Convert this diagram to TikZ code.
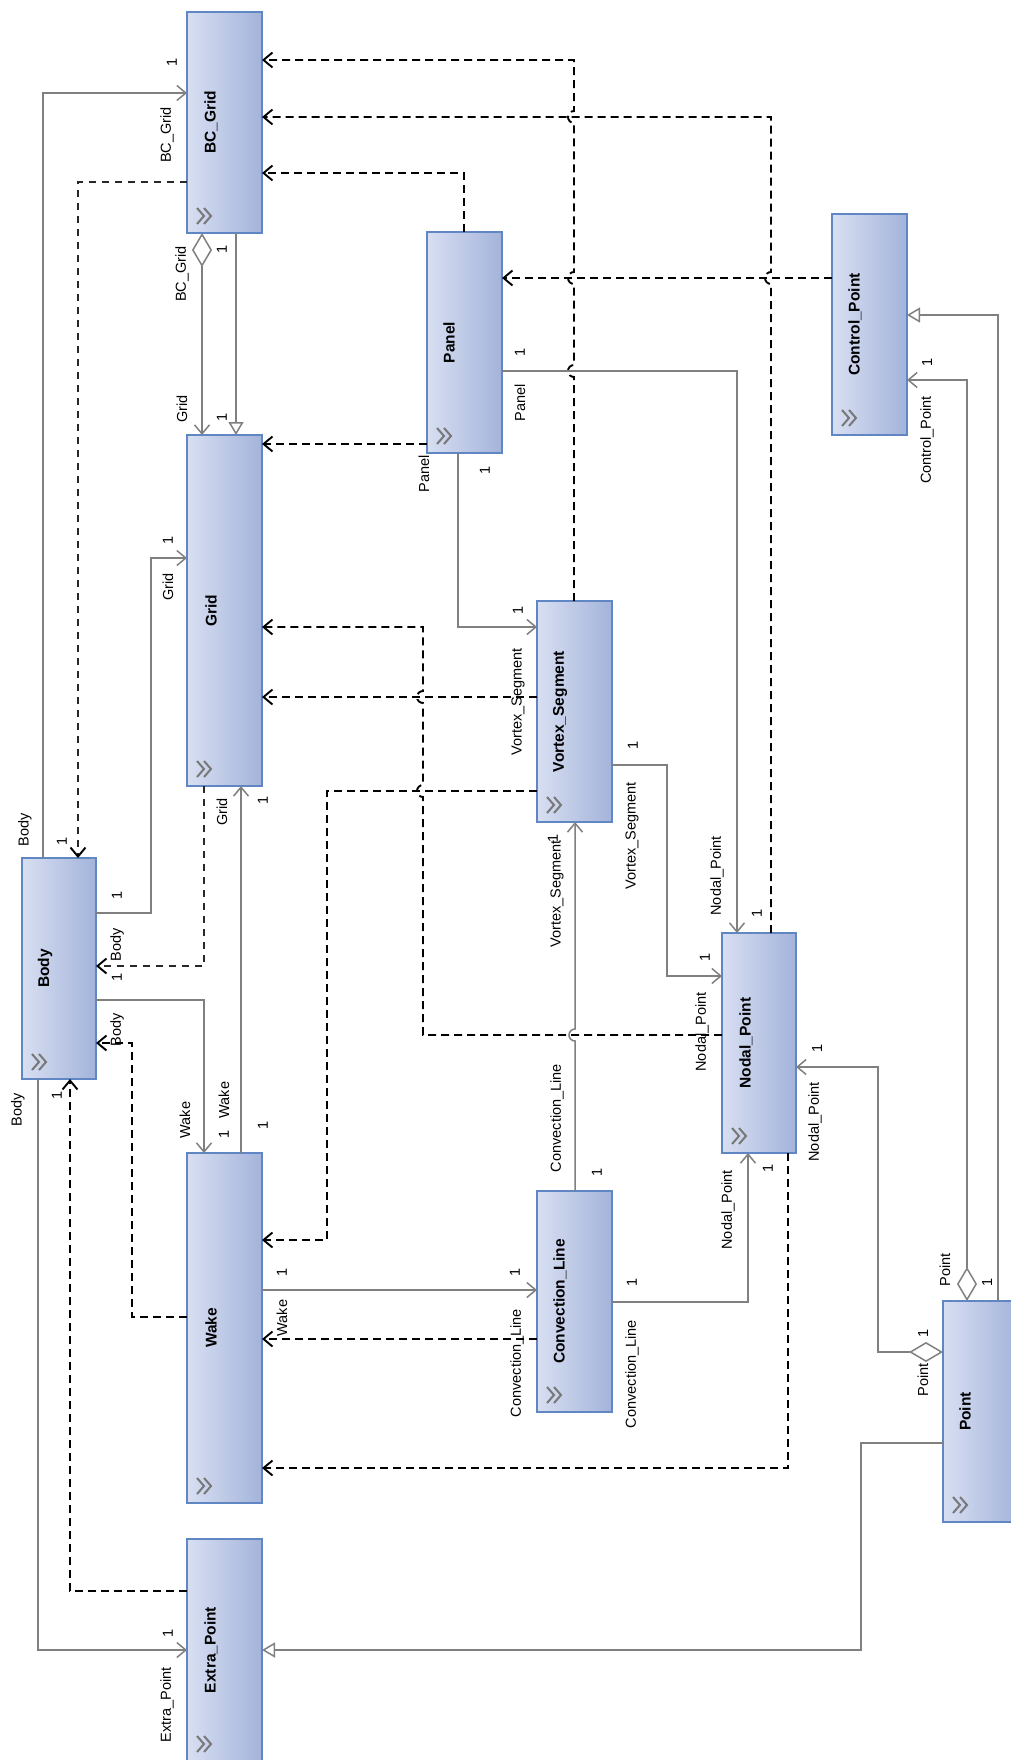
\documentclass[tikz,border=0pt]{standalone}
\usepackage{fontspec}
\setmainfont{Liberation Sans}
\usetikzlibrary{arrows.meta,calc}
\definecolor{boxL}{RGB}{216,223,242}
\definecolor{boxR}{RGB}{163,179,218}
\definecolor{boxB}{RGB}{96,134,196}
\definecolor{linec}{RGB}{128,128,128}
\definecolor{chevc}{RGB}{120,120,120}
\definecolor{thindash}{RGB}{40,40,40}
\newcommand\dlblfont{\fontsize{14.5}{16}\selectfont}
\newcommand\dttlfont{\fontsize{15.5}{17}\selectfont\bfseries}
\tikzset{
  cls/.style={draw=boxB, line width=1.3pt, left color=boxL, right color=boxR,
    inner sep=0pt, outer sep=0pt, minimum width=75pt, minimum height=221pt, anchor=north west},
  ttl/.style={rotate=90, font=\dttlfont, inner sep=0pt},
  lbl/.style={rotate=90, font=\dlblfont, inner sep=0pt},
  chevline/.style={draw=chevc, line width=2pt, line join=miter},
  assoc/.style={draw=linec, line width=1.5pt, arrows={-Straight Barb[length=9pt,width=15pt]}},
  dep/.style={draw=black, line width=1.9pt, dash pattern=on 8pt off 5pt,
    arrows={-Straight Barb[length=9pt,width=15pt]}},
  depthin/.style={draw=thindash, line width=1.2pt, dash pattern=on 7pt off 6pt,
    arrows={-Straight Barb[length=9pt,width=15pt,line width=1.9pt,color=black]}},
  gen/.style={draw=linec, line width=1.5pt, arrows={-Triangle[open,fill=white,length=13pt,width=15pt]}},
  aggr/.style={draw=linec, line width=1.5pt,
    arrows={Diamond[open,fill=white,length=34pt,width=20pt]-Straight Barb[length=9pt,width=15pt]}},
}
\begin{document}
\begin{tikzpicture}[x=1pt,y=-1pt]
\fill[white] (0,0) rectangle (1010,1760);
\useasboundingbox (0,0) rectangle (1010,1760);

% ---------- classes ----------
\node[cls] (bcgrid) at (187,12) {};
\node[cls] (panel) at (427,232) {};
\node[cls, minimum height=351pt] (grid) at (187,435) {};
\node[cls, minimum width=74pt] (body) at (22,858) {};
\node[cls, minimum height=350pt] (wake) at (187,1153) {};
\node[cls, minimum height=222pt] (extra) at (187,1539) {};
\node[cls] (vs) at (537,601) {};
\node[cls] (cp) at (832,214) {};
\node[cls, minimum width=74pt, minimum height=220pt] (np) at (722,933) {};
\node[cls] (cl) at (537,1191) {};
\node[cls] (point) at (943,1301) {};

\node[ttl] (bcgridT) at ($(bcgrid.west)+(24,0)$) {BC\_Grid};
\node[ttl] (panelT) at ($(panel.west)+(22,0)$) {Panel};
\node[ttl] (gridT) at ($(grid.west)+(24,0)$) {Grid};
\node[ttl] (bodyT) at ($(body.west)+(23,0)$) {Body};
\node[ttl] (wakeT) at ($(wake.west)+(24,0)$) {Wake};
\node[ttl] (extraT) at ($(extra.west)+(24,0)$) {Extra\_Point};
\node[ttl] (vsT) at ($(vs.west)+(23,0)$) {Vortex\_Segment};
\node[ttl] (cpT) at ($(cp.west)+(23,0)$) {Control\_Point};
\node[ttl] (npT) at ($(np.west)+(24,0)$) {Nodal\_Point};
\node[ttl] (clT) at ($(cl.west)+(23,0)$) {Convection\_Line};
\node[ttl] (pointT) at ($(point.west)+(22,0)$) {Point};

% expand chevrons
\foreach \n in {bcgrid,panel,grid,body,wake,extra,vs,cp,np,cl,point}{
  \draw[chevline] ($(\n.south west)+(10,-25)$) -- ++(7,8) -- ++(-7,8);
  \draw[chevline] ($(\n.south west)+(17,-25)$) -- ++(7,8) -- ++(-7,8);
}

% ---------- dependencies (dashed) ----------
\draw[depthin] ($(bcgrid.north west)+(0,170)$) -| ($(body.north west)+(56,0)$);
\draw[depthin] ($(grid.south west)+(17,0)$) |- ($(body.north east)+(0,108)$);
\draw[dep] ($(wake.north west)+(0,164)$) -- ++(-55,0) |- ($(body.north east)+(0,185)$);
\draw[dep] ($(extra.north west)+(0,52)$) -| ($(body.south west)+(48,0)$);
\draw[dep] ($(panel.north west)+(37,0)$) |- ($(bcgrid.north east)+(0,161)$);
\draw[dep] ($(panel.north west)+(0,212)$) -- ($(grid.north east)+(0,9)$);
\draw[dep] ($(cp.north west)+(0,64)$) -- ($(panel.north east)+(0,46)$);
\draw[dep] ($(vs.north west)+(37,0)$) -- ++(0,-224)
   arc[start angle=270,end angle=90,radius=6pt] -- ++(0,-81)
   arc[start angle=270,end angle=90,radius=6pt] -- ++(0,-149)
   arc[start angle=270,end angle=90,radius=6pt]
   |- ($(bcgrid.north east)+(0,48)$);
\draw[dep] ($(np.north west)+(49,0)$) -- ++(0,-649)
   arc[start angle=270,end angle=90,radius=6pt]
   |- ($(bcgrid.north east)+(0,105)$);
\draw[dep] ($(vs.north west)+(0,96)$) -- ($(grid.north east)+(0,262)$);
\draw[dep] ($(np.north west)+(0,102)$) -- ++(-299,0) -- ++(0,-238)
   arc[start angle=270,end angle=90,radius=6pt] -- ++(0,-82)
   arc[start angle=270,end angle=90,radius=6pt]
   |- ($(grid.north east)+(0,192)$);
\draw[dep] ($(vs.north west)+(0,190)$) -- ++(-210,0) |- ($(wake.north east)+(0,87)$);
\draw[dep] ($(cl.north west)+(0,148)$) -- ($(wake.north east)+(0,186)$);
\draw[dep] ($(np.south west)+(66,0)$) |- ($(wake.north east)+(0,315)$);

% ---------- associations ----------
\draw[assoc] ($(body.north west)+(21,0)$) |- ($(bcgrid.north west)+(0,81)$);
\draw[aggr] ($(bcgrid.south west)+(15,0)$) -- ($(grid.north west)+(15,0)$);
\draw[gen] ($(bcgrid.south west)+(49,0)$) -- ($(grid.north west)+(49,0)$);
\draw[assoc] ($(body.north east)+(0,55)$) -- ++(55,0) |- ($(grid.north west)+(0,123)$);
\draw[assoc] ($(wake.north west)+(54,0)$) -- ($(grid.south west)+(54,0)$);
\draw[assoc] ($(body.north east)+(0,142)$) -| ($(wake.north west)+(17,0)$);
\draw[assoc] ($(body.south west)+(16,0)$) |- ($(extra.north west)+(0,111)$);
\draw[assoc] ($(panel.south west)+(31,0)$) |- ($(vs.north west)+(0,26)$);
\draw[assoc] ($(panel.north east)+(0,139)$) -| ($(np.north west)+(15,0)$);
\draw[assoc] ($(wake.north east)+(0,137)$) -- ($(cl.north west)+(0,99)$);
\draw[assoc] ($(cl.north west)+(38,0)$) -- ++(0,-150)
   arc[start angle=270,end angle=90,radius=6pt] -- ($(vs.south west)+(38,0)$);
\draw[assoc] ($(vs.north east)+(0,164)$) -- ++(55,0) |- ($(np.north west)+(0,43)$);
\draw[assoc] ($(cl.north east)+(0,111)$) -| ($(np.south west)+(26,0)$);
\draw[aggr] ($(point.north west)+(0,51)$) -- ++(-65,0) |- ($(np.north east)+(0,134)$);
\draw[aggr] ($(point.north west)+(24,0)$) |- ($(cp.north east)+(0,166)$);
\draw[gen] ($(point.north west)+(55,0)$) |- ($(cp.north east)+(0,101)$);
\draw[gen] ($(point.north west)+(0,142)$) -- ++(-82,0) |- ($(extra.north east)+(0,111)$);

% ---------- role names and multiplicities ----------
\node[lbl] (t01) at (172,62) {1};
\node[lbl] (t02) at (167,135) {BC\_Grid};
\node[lbl] (t03) at (25,830) {Body};
\node[lbl] (t04) at (62,841) {1};
\node[lbl] (t05) at (182,274) {BC\_Grid};
\node[lbl] (t06) at (222,249) {1};
\node[lbl] (t07) at (182,409) {Grid};
\node[lbl] (t08) at (222,417) {1};
\node[lbl] (t09) at (117,895) {1};
\node[lbl] (t10) at (168,540) {1};
\node[lbl] (t11) at (168,587) {Grid};
\node[lbl] (t12) at (117,945) {Body};
\node[lbl] (t13) at (117,977) {1};
\node[lbl] (t14) at (117,1030) {Body};
\node[lbl] (t15) at (222,812) {Grid};
\node[lbl] (t16) at (263,800) {1};
\node[lbl] (t17) at (224,1100) {Wake};
\node[lbl] (t18) at (263,1125) {1};
\node[lbl] (t19) at (185,1120) {Wake};
\node[lbl] (t20) at (224,1134) {1};
\node[lbl] (t21) at (18,1110) {Body};
\node[lbl] (t22) at (167,1705) {Extra\_Point};
\node[lbl] (t23) at (168,1633) {1};
\node[lbl] (t24) at (57,1095) {1};
\node[lbl] (t25) at (424,474) {Panel};
\node[lbl] (t26) at (485,470) {1};
\node[lbl] (t27) at (518,702) {Vortex\_Segment};
\node[lbl] (t28) at (518,610) {1};
\node[lbl] (t29) at (520,352) {1};
\node[lbl] (t30) at (520,403) {Panel};
\node[lbl] (t31) at (717,876) {Nodal\_Point};
\node[lbl] (t32) at (757,913) {1};
\node[lbl] (t33) at (282,1272) {1};
\node[lbl] (t34) at (515,1272) {1};
\node[lbl] (t35) at (282,1318) {Wake};
\node[lbl] (t36) at (517,1363) {Convection\_Line};
\node[lbl] (t37) at (557,1118) {Convection\_Line};
\node[lbl] (t38) at (597,1172) {1};
\node[lbl] (t39) at (557,894) {Vortex\_Segment};
\node[lbl] (t40) at (553,838) {1};
\node[lbl] (t41) at (633,745) {1};
\node[lbl] (t42) at (632,836) {Vortex\_Segment};
\node[lbl] (t43) at (702,1032) {Nodal\_Point};
\node[lbl] (t44) at (705,957) {1};
\node[lbl] (t45) at (632,1282) {1};
\node[lbl] (t46) at (632,1374) {Convection\_Line};
\node[lbl] (t47) at (728,1210) {Nodal\_Point};
\node[lbl] (t48) at (768,1168) {1};
\node[lbl] (t49) at (923,1380) {Point};
\node[lbl] (t50) at (923,1333) {1};
\node[lbl] (t51) at (817,1048) {1};
\node[lbl] (t52) at (815,1122) {Nodal\_Point};
\node[lbl] (t53) at (945,1270) {Point};
\node[lbl] (t54) at (987,1282) {1};
\node[lbl] (t55) at (927,362) {1};
\node[lbl] (t56) at (927,440) {Control\_Point};
\end{tikzpicture}
\end{document}
